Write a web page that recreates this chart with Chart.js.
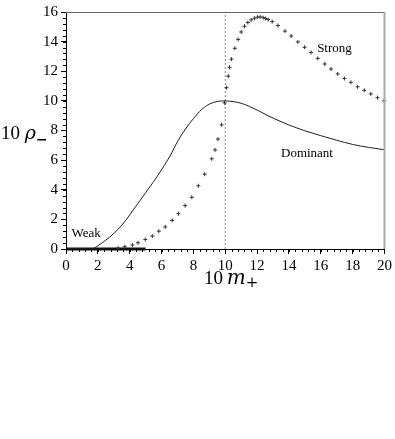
<!DOCTYPE html>
<html>
<head>
<meta charset="utf-8">
<script src="https://cdn.jsdelivr.net/npm/chart.js@4"></script>
<style>
  html, body { margin: 0; padding: 0; background: #fff; }
  canvas { display: block; }
</style>
</head>
<body>
<canvas id="c" width="395" height="300"></canvas>
<script>
// ---- data ----
const dominantX = [0, 1.6, 2.0, 2.5, 3.0, 3.5, 4.0, 4.5, 5.0, 5.5, 6.0, 6.67, 6.85, 7.0, 7.5, 8.0, 8.5, 9.0, 9.5, 10.0, 10.5, 11.0, 11.5, 12.0, 12.5, 13.0, 13.5, 14.0, 14.5, 15.0, 16.0, 17.0, 18.0, 19.0, 20.0];
const dominantY = [0, 0, 0.22, 0.6, 1.05, 1.6, 2.3, 3.05, 3.8, 4.55, 5.35, 6.55, 6.95, 7.25, 8.1, 8.8, 9.4, 9.78, 9.96, 10.0, 9.95, 9.84, 9.63, 9.38, 9.1, 8.84, 8.6, 8.37, 8.17, 7.98, 7.65, 7.34, 7.06, 6.86, 6.7];

const strongX = [3.27, 3.69, 4.17, 4.52, 4.98, 5.42, 5.83, 6.23, 6.67, 7.06, 7.48, 7.9, 8.31, 8.71, 9.15, 9.36, 9.54, 9.77, 9.96, 10.08, 10.19, 10.27, 10.39, 10.6, 10.81, 11.0, 11.21, 11.42, 11.63, 11.83, 12.02, 12.19, 12.38, 12.54, 12.7, 12.95, 13.31, 13.75, 14.14, 14.56, 14.98, 15.39, 15.81, 16.25, 16.64, 17.06, 17.48, 17.89, 18.31, 18.73, 19.14, 19.56, 19.98];
const strongY = [0.06, 0.15, 0.27, 0.42, 0.64, 0.87, 1.2, 1.49, 1.93, 2.38, 2.93, 3.49, 4.27, 5.05, 6.09, 6.69, 7.42, 8.38, 9.87, 10.89, 11.67, 12.27, 12.82, 13.55, 14.15, 14.65, 15.04, 15.29, 15.47, 15.58, 15.65, 15.67, 15.62, 15.56, 15.49, 15.35, 15.09, 14.71, 14.38, 13.98, 13.62, 13.27, 12.87, 12.49, 12.15, 11.82, 11.51, 11.25, 10.95, 10.71, 10.47, 10.22, 10.0];

const weakX = [0.05, 5.0];
const weakY = [0, 0];

const markerX = [10, 10];
const markerY = [0, 16];

const xTicks = [0, 2, 4, 6, 8, 10, 12, 14, 16, 18, 20];
const yTicks = [0, 2, 4, 6, 8, 10, 12, 14, 16];
const minorStep = 0.4;

const curveLabels = [
  { text: 'Weak', x: 0.35, y: 0.8 },
  { text: 'Strong', x: 15.77, y: 13.33 },
  { text: 'Dominant', x: 13.5, y: 6.2 }
];

const zip = (xs, ys) => xs.map((x, i) => ({ x: x, y: ys[i] }));
const SERIF = '"Liberation Serif", "Times New Roman", serif';

const decorPlugin = {
  id: 'decor',
  afterDraw(chart) {
    const ctx = chart.ctx;
    const a = chart.chartArea;
    const xs = chart.scales.x, ys = chart.scales.y;
    ctx.save();
    // frame: top and right
    ctx.strokeStyle = '#666';
    ctx.lineWidth = 1;
    ctx.beginPath();
    ctx.moveTo(a.left, a.top + 0.5);
    ctx.lineTo(a.right, a.top + 0.5);
    ctx.stroke();
    ctx.strokeStyle = '#aaa';
    ctx.lineWidth = 2;
    ctx.beginPath();
    ctx.moveTo(a.right, a.top);
    ctx.lineTo(a.right, a.bottom);
    ctx.stroke();
    // minor ticks
    ctx.strokeStyle = '#000';
    ctx.lineWidth = 1;
    ctx.beginPath();
    for (let v = minorStep; v < xs.max - 1e-6; v += minorStep) {
      const px = Math.round(xs.getPixelForValue(v)) + 0.5;
      ctx.moveTo(px, a.bottom);
      ctx.lineTo(px, a.bottom + 3);
    }
    for (let v = minorStep; v < ys.max - 1e-6; v += minorStep) {
      const py = Math.round(ys.getPixelForValue(v)) + 0.5;
      ctx.moveTo(a.left - 3, py);
      ctx.lineTo(a.left, py);
    }
    ctx.stroke();
    // curve labels
    ctx.fillStyle = '#000';
    ctx.font = '13px ' + SERIF;
    ctx.textBaseline = 'alphabetic';
    ctx.textAlign = 'left';
    curveLabels.forEach(l => {
      ctx.fillText(l.text, xs.getPixelForValue(l.x), ys.getPixelForValue(l.y));
    });
    // y title: 10 rho_-
    let yb = 139;
    let x0 = 1;
    ctx.font = '19px ' + SERIF;
    ctx.fillText('10', x0, yb);
    x0 += ctx.measureText('10 ').width;
    ctx.font = 'italic 19px "DejaVu Serif", serif';
    ctx.fillText('ρ', x0, yb);
    x0 += ctx.measureText('ρ').width;
    ctx.font = 'bold 14px "DejaVu Serif", serif';
    ctx.textBaseline = 'middle';
    ctx.fillText('−', x0, yb + 1);
    // x title: 10 m_+
    ctx.textBaseline = 'alphabetic';
    const xb = 284;
    x0 = 204;
    ctx.font = '19px ' + SERIF;
    ctx.fillText('10', x0, xb);
    x0 += ctx.measureText('10 ').width - 1;
    ctx.font = 'italic 20px "DejaVu Serif", serif';
    ctx.fillText('m', x0, xb);
    x0 += ctx.measureText('m').width;
    ctx.font = '15px "DejaVu Serif", serif';
    ctx.textBaseline = 'middle';
    ctx.fillText('+', x0, xb - 1);
    ctx.restore();
  }
};

new Chart(document.getElementById('c'), {
  type: 'scatter',
  data: {
    datasets: [
      {
        label: 'Dominant',
        data: zip(dominantX, dominantY),
        showLine: true,
        borderColor: '#222',
        borderWidth: 1,
        pointRadius: 0,
        cubicInterpolationMode: 'monotone'
      },
      {
        label: 'Strong',
        data: zip(strongX, strongY),
        showLine: false,
        pointStyle: 'cross',
        pointRadius: 2,
        borderColor: '#333',
        borderWidth: 1,
        clip: false
      },
      {
        label: 'Weak',
        data: zip(weakX, weakY),
        showLine: true,
        borderColor: '#111',
        borderWidth: 3,
        pointRadius: 0,
        clip: false
      },
      {
        label: 'marker',
        data: zip(markerX, markerY),
        showLine: true,
        borderColor: '#888',
        borderWidth: 1,
        borderDash: [2, 2],
        pointRadius: 0
      }
    ]
  },
  options: {
    responsive: false,
    devicePixelRatio: 1,
    animation: false,
    layout: { padding: { left: 0, top: 10, right: 9, bottom: 0 } },
    plugins: { legend: { display: false }, tooltip: { enabled: false } },
    scales: {
      x: {
        type: 'linear',
        min: 0, max: 20,
        afterBuildTicks(s) { s.ticks = xTicks.map(v => ({ value: v })); },
        afterFit(s) { s.height = 51; },
        ticks: { color: '#000', font: { family: SERIF, size: 15 }, padding: 3, maxRotation: 0 },
        grid: { drawOnChartArea: false, drawTicks: true, tickLength: 5, color: '#000' },
        border: { display: true, color: '#000', width: 1 }
      },
      y: {
        type: 'linear',
        min: 0, max: 16,
        afterBuildTicks(s) { s.ticks = yTicks.map(v => ({ value: v })); },
        afterFit(s) { s.width = 66; },
        ticks: { color: '#000', font: { family: SERIF, size: 15 }, padding: 3 },
        grid: { drawOnChartArea: false, drawTicks: true, tickLength: 5, color: '#000' },
        border: { display: true, color: '#000', width: 1 }
      }
    }
  },
  plugins: [decorPlugin]
});
</script>
</body>
</html>
